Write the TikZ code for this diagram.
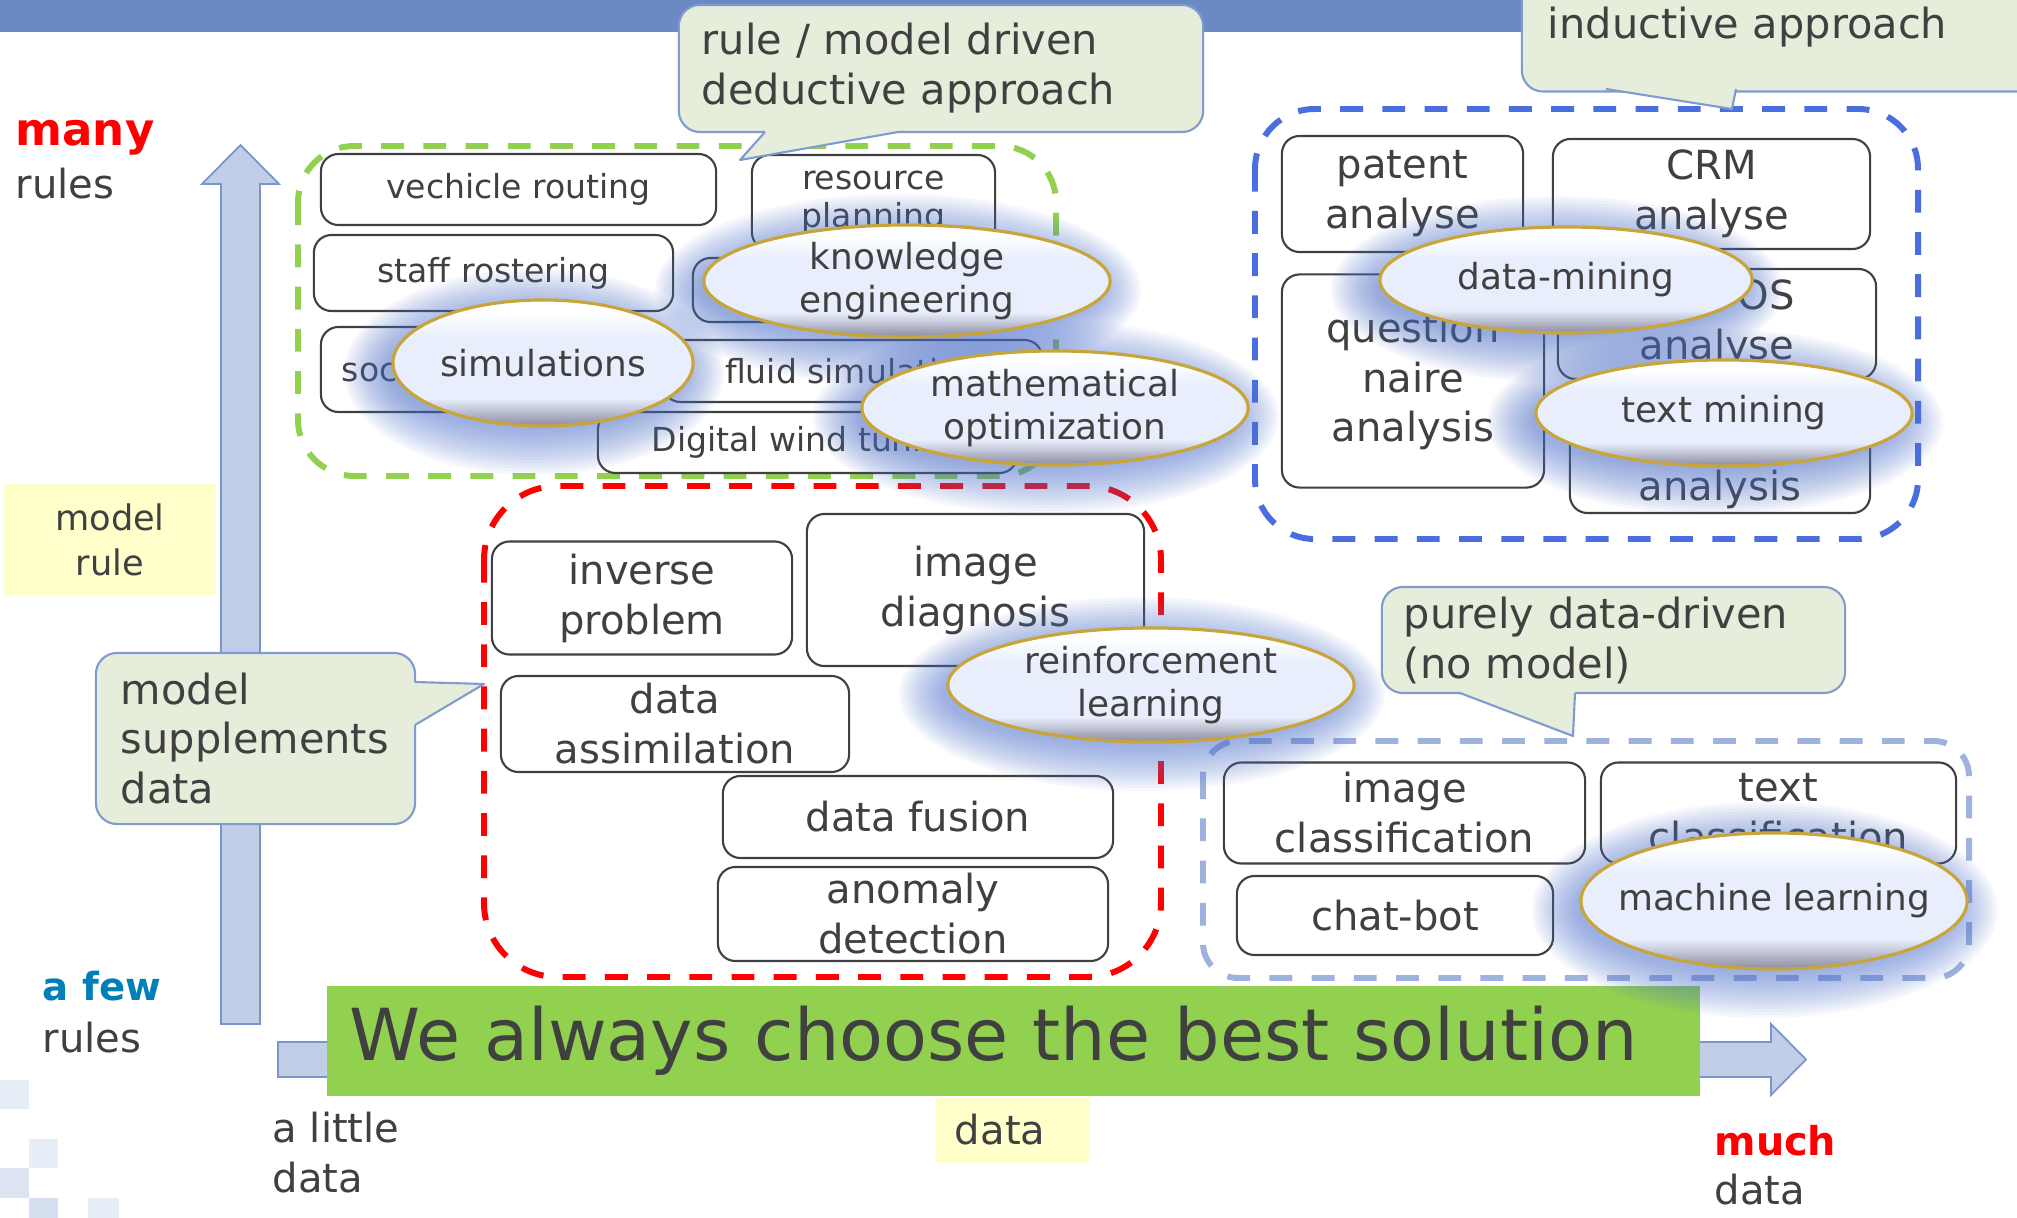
\documentclass[tikz,border=0pt]{standalone}
\usepackage{fontspec}
\setmainfont{DejaVu Sans}
\usetikzlibrary{shapes.geometric}
\definecolor{TopBar}{RGB}{107,137,195}
\definecolor{ArrowFill}{RGB}{194,206,231}
\definecolor{ArrowLine}{RGB}{120,150,204}
\definecolor{BubbleFill}{RGB}{230,238,219}
\definecolor{BubbleLine}{RGB}{127,155,208}
\definecolor{Banner}{RGB}{146,208,80}
\definecolor{TextGray}{RGB}{64,64,64}
\definecolor{BoxLine}{RGB}{64,64,64}
\definecolor{GreenDash}{RGB}{146,208,80}
\definecolor{RedDash}{RGB}{255,0,0}
\definecolor{BlueDash}{RGB}{74,110,224}
\definecolor{LightDash}{RGB}{159,178,222}
\definecolor{NoteYellow}{RGB}{255,255,204}
\definecolor{ManyRed}{RGB}{255,0,0}
\definecolor{FewBlue}{RGB}{0,128,184}
\definecolor{Glow}{RGB}{82,116,204}
\definecolor{EllFill}{RGB}{232,238,252}
\definecolor{EllDark}{RGB}{140,140,160}
\definecolor{EllRim}{RGB}{200,165,58}
\definecolor{Chk1}{RGB}{232,238,247}
\definecolor{Chk2}{RGB}{220,228,242}
\definecolor{Chk3}{RGB}{213,223,240}
\pgfdeclareverticalshading{glossy}{100bp}{color(0bp)=(EllDark); color(25bp)=(EllDark); color(36bp)=(EllFill); color(60bp)=(EllFill); color(70bp)=(white); color(100bp)=(white)}
\tikzset{%
  group/.style={%
    draw, line width=1.7pt, dash pattern=on 6.5pt off 5.5pt
  },
  box/.style={%
    draw=BoxLine, fill=white, line width=0.6pt, rounded corners=5pt,
    inner sep=0pt, align=center, text=TextGray,
    font=\fontsize{11.4}{14.2}\selectfont
  },
  smallbox/.style={box, font=\fontsize{9.4}{10.8}\selectfont},
  method/.style={%
    ellipse, draw=EllRim, line width=0.9pt, shade, shading=glossy,
    inner xsep=-0.25cm, inner ysep=0pt, align=center, text=TextGray,
    font=\fontsize{10.2}{12.2}\selectfont
  },
  bubble/.style={%
    draw=BubbleLine, fill=BubbleFill, line width=0.6pt, rounded corners=6pt,
    inner ysep=0pt, align=left, text=TextGray,
    font=\fontsize{11.8}{14.2}\selectfont
  },
  bubblefill/.style={fill=BubbleFill},
  bubbleedge/.style={draw=BubbleLine, line width=0.6pt, line join=round},
  bigarrow/.style={fill=ArrowFill, draw=ArrowLine, line width=0.5pt},
  note/.style={%
    fill=NoteYellow, inner sep=0pt, align=center, text=TextGray
  },
  banner/.style={%
    fill=Banner, inner xsep=0.23cm, inner ysep=0pt, align=left, text=TextGray,
    font=\fontsize{20.4}{24}\selectfont
  },
  lbl/.style={%
    inner sep=0pt, anchor=base west, text=TextGray,
    font=\fontsize{11.4}{14.2}\selectfont
  },
}

\begin{document}
\begin{tikzpicture}[x=0.01cm, y=-0.01cm]
  \useasboundingbox (0,0) rectangle (2017,1218);

  % top band and corner squares
  \fill[TopBar] (0,0) rectangle (2017,32);
  \fill[Chk1] (0,1080) rectangle (29,1109);
  \fill[Chk1] (29,1139) rectangle (58,1168);
  \fill[Chk2] (0,1168) rectangle (29,1198);
  \fill[Chk3] (29,1198) rectangle (58,1218);
  \fill[Chk1] (88,1198) rectangle (119,1218);

  % axes
  \draw[bigarrow] (221,1024) -- (221,184) -- (202,184) -- (240.5,145)
    -- (279,184) -- (260,184) -- (260,1024) -- cycle;
  \draw[bigarrow] (278,1042) -- (1771,1042) -- (1771,1024) -- (1806,1059.5)
    -- (1771,1095) -- (1771,1077) -- (278,1077) -- cycle;
  \node (best)[banner, minimum width=13.73cm, minimum height=1.10cm, text width=13.27cm]
    at (1013.5,1041) {We always choose the best solution};

  % groups
  \draw[group, GreenDash, rounded corners=16pt] (298,146) rectangle (1056,476);
  \draw[group, RedDash, rounded corners=21pt] (484,486) rectangle (1161,977);
  \draw[group, BlueDash, rounded corners=17pt] (1255,109) rectangle (1918,539);
  \draw[group, LightDash, rounded corners=10pt] (1203,741) rectangle (1969,978);

  % rule driven
  \node (VROUTE)[smallbox, minimum width=3.95cm, minimum height=0.71cm] at (518.5,189.5) {vechicle routing};
  \node (RESPLAN)[smallbox, minimum width=2.43cm, minimum height=0.95cm] at (873.5,202.5) {resource\\planning};
  \node (STAFF)[smallbox, minimum width=3.59cm, minimum height=0.76cm] at (493.5,273) {staff rostering};
  \node (HIDDEN)[smallbox, minimum width=3.07cm, minimum height=0.64cm] at (846.5,290) {};
  \node (SOCIAL)[smallbox, minimum width=3.19cm, minimum height=0.85cm] at (480.5,369.5) {social simulation};
  \node (FLUID)[smallbox, minimum width=3.79cm, minimum height=0.62cm] at (852.5,371) {fluid simulation};
  \node (WIND)[smallbox, minimum width=4.19cm, minimum height=0.61cm] at (807.5,442.5) {Digital wind tunnel};

  % inductive
  \node (PATENT)[box, minimum width=2.41cm, minimum height=1.16cm] at (1402.5,194) {patent\\analyse};
  \node (CRM)[box, minimum width=3.17cm, minimum height=1.10cm] at (1711.5,194) {CRM\\analyse};
  \node (QUEST)[box, minimum width=2.62cm, minimum height=2.13cm] at (1413,381) {question\\naire\\analysis};
  \node (POS)[box, align=right, minimum width=3.18cm, minimum height=1.10cm] at (1717,324) {POS\\analyse};
  \node (TXTAN)[box, minimum width=3.00cm, minimum height=1.02cm] at (1720,462) {\strut\\analysis};

  % model supplements data
  \node (INVERSE)[box, minimum width=3.00cm, minimum height=1.13cm] at (642,598) {inverse\\problem};
  \node (IMGDIAG)[box, minimum width=3.37cm, minimum height=1.52cm] at (975.5,590) {image\\diagnosis};
  \node (ASSIM)[box, minimum width=3.48cm, minimum height=0.96cm] at (675,724) {data\\assimilation};
  \node (FUSION)[box, minimum width=3.90cm, minimum height=0.82cm] at (918,817) {data fusion};
  \node (ANOMALY)[box, minimum width=3.90cm, minimum height=0.94cm] at (913,914) {anomaly\\detection};

  % purely data driven
  \node (IMGCLS)[box, minimum width=3.61cm, minimum height=1.01cm] at (1404.5,813) {image\\classification};
  \node (TXTCLS)[box, minimum width=3.55cm, minimum height=1.01cm] at (1778.5,813) {text\\classification};
  \node (CHATBOT)[box, minimum width=3.16cm, minimum height=0.79cm] at (1395,915.5) {chat-bot};

  % methods
  \foreach \cx/\cy/\rx/\ry in {907/281/203/56, 543/363/150/63, 1055/408/193/57,
      1566/280/186/53, 1724/413/188/53, 1151/685/203/57, 1774/901/193/68}
    \foreach \g in {1,...,16}
      \fill[Glow, opacity=0.05] (\cx-9,\cy+9) ellipse [x radius=\rx-8+3*\g, y radius=\ry-8+3*\g];
  \node (KNOW)[method, minimum width=4.06cm, minimum height=1.12cm] at (907,281) {knowledge\\engineering};
  \node (SIMUL)[method, minimum width=3.00cm, minimum height=1.26cm] at (543,363) {simulations};
  \node (MATHOPT)[method, minimum width=3.86cm, minimum height=1.14cm] at (1055,408) {mathematical\\optimization};
  \node (DMINE)[method, minimum width=3.72cm, minimum height=1.06cm] at (1566,280) {data-mining};
  \node (TMINE)[method, minimum width=3.76cm, minimum height=1.06cm] at (1724,413) {text mining};
  \node (REINF)[method, minimum width=4.06cm, minimum height=1.14cm] at (1151,685) {reinforcement\\learning};
  \node (MLEARN)[method, minimum width=3.86cm, minimum height=1.36cm] at (1774,901) {machine learning};

  % callouts
  \node (DEDUCT)[bubble, minimum width=5.24cm, minimum height=1.27cm, inner xsep=0.23cm, text width=4.78cm]
    at (941,68.5) {rule / model driven\\deductive approach};
  \coordinate (DEDUCTTIP) at (740,160);
  \fill[bubblefill] (765,128) -- (765,132) -- (DEDUCTTIP) -- (898,132) -- (898,128) -- cycle;
  \draw[bubbleedge] (765,132) -- (DEDUCTTIP) -- (898,132);

  \node (INDUCT)[bubble, minimum width=5.18cm, minimum height=1.29cm, inner xsep=0.26cm, text width=4.66cm]
    at (1781,27) {inductive approach};
  \coordinate (INDUCTTIP) at (1732,109);
  \fill[bubblefill] (1606,85) -- (1606,89) -- (INDUCTTIP) -- (1736,89) -- (1736,85) -- cycle;
  \draw[bubbleedge] (1606,89) -- (INDUCTTIP) -- (1736,89);

  \node (PURELY)[bubble, minimum width=4.63cm, minimum height=1.06cm, inner xsep=0.22cm, text width=4.19cm]
    at (1613.5,640) {purely data-driven\\(no model)};
  \coordinate (PURELYTIP) at (1573,736);
  \fill[bubblefill] (1460,689) -- (1460,693) -- (PURELYTIP) -- (1575,693) -- (1575,689) -- cycle;
  \draw[bubbleedge] (1460,693) -- (PURELYTIP) -- (1575,693);

  \node (SUPPL)[bubble, minimum width=3.19cm, minimum height=1.71cm, inner xsep=0.25cm, text width=2.69cm]
    at (255.5,738.5) {model\\supplements\\data};
  \coordinate (SUPPLTIP) at (484,684);
  \fill[bubblefill] (411,682) -- (415,682) -- (SUPPLTIP) -- (415,725) -- (411,725) -- cycle;
  \draw[bubbleedge] (415,682) -- (SUPPLTIP) -- (415,725);

  % axis labels
  \node (MODELRULE)[note, minimum width=2.12cm, minimum height=1.11cm, font=\fontsize{10}{12.8}\selectfont]
    at (110,539.5) {model\\rule};
  \node (DATANOTE)[note, minimum width=1.53cm, minimum height=0.66cm, inner xsep=0.19cm, text width=1.15cm,
    align=left, font=\fontsize{11.4}{14.2}\selectfont] at (1012.5,1130) {data};
  \node (MANY)[lbl, text=ManyRed, font=\fontsize{12.8}{15}\selectfont\bfseries] at (15,145) {many};
  \node (MANYRULES)[lbl] at (15,198) {rules};
  \node (FEW)[lbl, text=FewBlue, font=\fontsize{11}{14}\selectfont\bfseries] at (42,1000) {a few};
  \node (FEWRULES)[lbl] at (42,1052) {rules};
  \node (LITTLE)[lbl] at (272,1142) {a little};
  \node (LITTLEDATA)[lbl] at (272,1192) {data};
  \node (MUCH)[lbl, text=ManyRed, font=\fontsize{11.3}{14}\selectfont\bfseries] at (1714,1155) {much};
  \node (MUCHDATA)[lbl] at (1714,1204) {data};
\end{tikzpicture}
\end{document}
